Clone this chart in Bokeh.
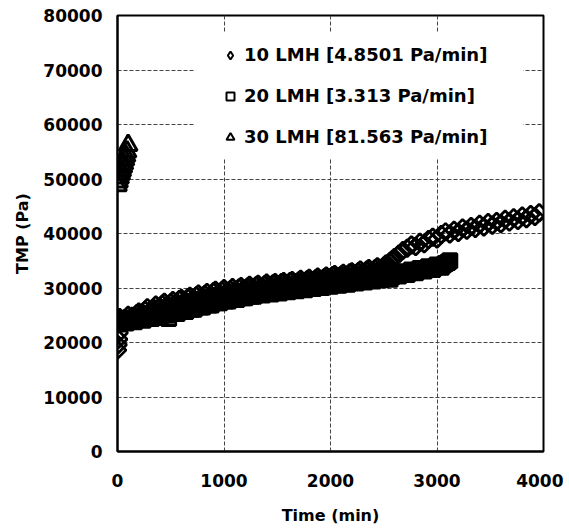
from bokeh.plotting import figure
from bokeh.models import Legend, LegendItem, FixedTicker, BasicTickFormatter, Range1d, ColumnDataSource, BoxAnnotation
from bokeh.embed import file_html
from bokeh.resources import INLINE
import math

# ---- data ----
t10 = [0, 5, 10, 15] + list(range(0, 2620, 20)) + list(range(2640, 4000, 40))
tmp10 = [18600, 19600, 20600, 21800,
         23800, 24600, 24000, 24300, 23900, 25000, 24500, 24800, 24700, 25300,
         25600, 25100, 25300, 25900, 26400, 25700, 25900, 26300, 26900, 26200,
         26500, 27000, 27400, 26700, 26800, 27300, 27700, 27000, 27300, 27900,
         28100, 27400, 27600, 28200, 28500, 27800, 28000, 28600, 28900, 28200,
         28300, 28800, 29200, 28500, 28700, 29300, 29600, 28900, 29000, 29500,
         29900, 29200, 29300, 29700, 30100, 29400, 29500, 30000, 30300, 29700,
         29800, 30200, 30500, 29900, 30000, 30400, 30700, 30100, 30200, 30600,
         30900, 30300, 30400, 30800, 31000, 30500, 30600, 31000, 31200, 30700,
         30800, 31200, 31400, 30900, 31000, 31300, 31600, 31100, 31200, 31500,
         31800, 31300, 31400, 31700, 32000, 31500, 31600, 31900, 32200, 31800,
         31900, 32300, 32500, 32000, 32100, 32400, 32700, 32200, 32400, 32800,
         33000, 32500, 32600, 33000, 33300, 32800, 32900, 33300, 33600, 33100,
         33200, 33600, 33900, 33400, 33600, 34000, 34400, 34300, 34900, 35200,
         35600,
         36200, 36900, 37300, 37900, 37600, 38400, 38100, 38900, 39300, 39000,
         39800, 40300, 39900, 40600, 40200, 41000, 40600, 41300, 40900, 41700,
         41200, 42000, 41500, 42200, 41800, 42600, 42100, 42900, 42400, 43200,
         42700, 43500, 43100, 43800]

t20 = list(range(0, 3140, 20))
tmp20 = [23400, 23900, 24300, 23700, 23600, 24200, 24500, 23900, 23800, 24400,
         24800, 24200, 24100, 24600, 25000, 24400, 24400, 24900, 25300, 24700,
         24700, 25200, 25600, 25000, 24400, 25500, 25900, 25300, 25300, 25800,
         26300, 25700, 25700, 26200, 26700, 26100, 26100, 26600, 27100, 26500,
         26500, 27000, 27500, 26900, 26900, 27400, 27900, 27300, 27300, 27800,
         28200, 27600, 27600, 28000, 28500, 27900, 27900, 28300, 28800, 28200,
         28200, 28600, 29000, 28500, 28500, 28900, 29300, 28800, 28700, 29100,
         29500, 29000, 28900, 29300, 29700, 29200, 29100, 29500, 29900, 29400,
         29300, 29700, 30100, 29600, 29500, 29900, 30300, 29800, 29700, 30100,
         30500, 30000, 29900, 30300, 30700, 30200, 30100, 30500, 30900, 30400,
         30300, 30700, 31100, 30600, 30500, 30900, 31300, 30800, 30700, 31100,
         31500, 31000, 30900, 31300, 31700, 31200, 31100, 31500, 31900, 31400,
         31300, 31700, 32100, 31600, 31500, 32000, 32400, 31900, 31600, 32100,
         32700, 32300, 32200, 32600, 33000, 32600, 32500, 32900, 33300, 32900,
         32800, 33200, 33600, 33200, 33100, 33500, 33900, 33500, 33400, 33800,
         34200, 33900, 33800, 34200, 34500, 34700, 35000]

t30 = [0, 10, 20, 30, 40, 50, 60, 70, 80, 90, 100]
tmp30 = [48800, 49500, 50200, 50900, 51500, 52200, 52800, 53500, 54200, 55000, 56200]

labels = ["10 LMH [4.8501 Pa/min]", "20 LMH [3.313 Pa/min]", "30 LMH [81.563 Pa/min]"]
x_ticks = [0, 1000, 2000, 3000, 4000]
y_ticks = [0, 10000, 20000, 30000, 40000, 50000, 60000, 70000, 80000]

FONT = "DejaVu Sans"

p = figure(width=563, height=527, output_backend="svg", toolbar_location=None,
           x_range=Range1d(0, 4000), y_range=Range1d(0, 80000),
           min_border_left=117, min_border_right=20, min_border_top=15, min_border_bottom=75)

p.outline_line_color = "black"
p.outline_line_width = 2

for ax in (p.xaxis[0], p.yaxis[0]):
    ax.axis_line_color = "black"
    ax.axis_line_width = 2
    ax.major_tick_line_color = None
    ax.minor_tick_line_color = None
    ax.major_tick_out = 0
    ax.major_tick_in = 0
    ax.major_label_text_font = FONT
    ax.major_label_text_font_style = "bold"
    ax.major_label_text_font_size = "17px"
    ax.major_label_text_color = "black"
    ax.axis_label_text_font = FONT
    ax.axis_label_text_font_style = "bold"
    ax.axis_label_text_font_size = "16px"
    ax.axis_label_text_color = "black"
    ax.formatter = BasicTickFormatter(use_scientific=False)

p.xaxis[0].ticker = FixedTicker(ticks=x_ticks)
p.yaxis[0].ticker = FixedTicker(ticks=y_ticks)
p.xaxis[0].axis_label = "Time (min)"
p.yaxis[0].axis_label = "TMP (Pa)"
p.xaxis[0].major_label_standoff = 22
p.yaxis[0].major_label_standoff = 15
p.xaxis[0].axis_label_standoff = 16
p.yaxis[0].axis_label_standoff = 8

for g in (p.xgrid[0], p.ygrid[0]):
    g.grid_line_color = "#444444"
    g.grid_line_width = 1
    g.grid_line_dash = "4 2"

# white panel behind the legend (hides the grid there, as in the original)
p.add_layout(BoxAnnotation(left=730, right=3810, bottom=53800, top=76900,
                           fill_color="white", fill_alpha=1, line_color=None))

# hollow (unfilled) markers, as in the original
r1 = p.scatter(t10, tmp10, marker="square", angle=math.pi / 4, size=12,
               fill_color=None, line_color="black", line_width=2.8)
r2 = p.scatter(t20, tmp20, marker="square", size=14,
               fill_color=None, line_color="black", line_width=3)
r3 = p.scatter(t30, tmp30, marker="triangle", size=18,
               fill_color=None, line_color="black", line_width=3)

# small legend glyphs (one off-range point each, clipped from the frame)
def far():
    return ColumnDataSource(data=dict(x=[-10000], y=[-100000]))

l1 = p.scatter(x="x", y="y", source=far(), marker="diamond", size=11,
               fill_color="white", line_color="black", line_width=2)
l2 = p.scatter(x="x", y="y", source=far(), marker="square", size=9,
               fill_color="white", line_color="black", line_width=2)
l3 = p.scatter(x="x", y="y", source=far(), marker="triangle", size=10,
               fill_color="white", line_color="black", line_width=2)

legend = Legend(items=[LegendItem(label=labels[0], renderers=[l1]),
                       LegendItem(label=labels[1], renderers=[l2]),
                       LegendItem(label=labels[2], renderers=[l3])],
                location=(103, 304))
legend.border_line_color = None
legend.background_fill_color = "white"
legend.background_fill_alpha = 1
legend.padding = 13
legend.spacing = 20
legend.glyph_width = 20
legend.glyph_height = 20
legend.label_height = 20
legend.label_standoff = 4
legend.label_text_font = FONT
legend.label_text_font_style = "bold"
legend.label_text_font_size = "18px"
legend.label_text_color = "black"
p.add_layout(legend, "center")

open("out.html", "w").write(file_html(p, INLINE))
